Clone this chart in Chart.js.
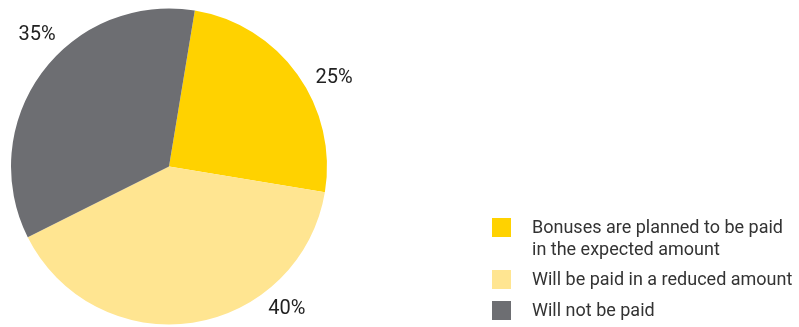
<!DOCTYPE html>
<html>
<head>
<meta charset="utf-8">
<script src="https://cdn.jsdelivr.net/npm/chart.js@4/dist/chart.umd.min.js"></script>
<style>
    html, body { margin: 0; padding: 0; background: #ffffff; }
    #wrap { position: relative; width: 799px; height: 327px; }
    #legend { position: absolute; left: 492px; top: 218px; font-family: Roboto, sans-serif; font-size: 18px; color: #333333; }
    .item { position: relative; padding-left: 40px; line-height: 21.5px; margin-bottom: 9px; }
    .item .box { position: absolute; left: 0; top: 0; width: 19px; height: 19px; }
    .item .txt { position: relative; top: -2px; }
</style>
</head>
<body>
<div id="wrap">
    <canvas id="pieChart" width="799" height="327"></canvas>
    <div id="legend"></div>
</div>
<script>
// Survey answers and shares (%)
let categories = ['Bonuses are planned to be paid in the expected amount', 'Will be paid in a reduced amount', 'Will not be paid'];
let legendLines = [['Bonuses are planned to be paid', 'in the expected amount'], ['Will be paid in a reduced amount'], ['Will not be paid']];
let shares = [25, 40, 35];
let colors = ['#ffd200', '#ffe591', '#6d6e72'];

// Where each percentage sits: angle from top (deg) and distance as a multiple of the radius
let labelAngles = [61.3, 140.0, 315.3];
let labelDist = [1.191, 1.161, 1.188];

const outsideLabels = {
    id: 'outsideLabels',
    afterDatasetsDraw(chart) {
        let ctx = chart.ctx;
        let arc = chart.getDatasetMeta(0).data[0];
        ctx.save();
        ctx.font = '20px Roboto, sans-serif';
        ctx.fillStyle = '#222222';
        ctx.textAlign = 'center';
        ctx.textBaseline = 'alphabetic';
        shares.forEach((v, i) => {
            let a = labelAngles[i] * Math.PI / 180;
            let r = arc.outerRadius * labelDist[i];
            // baseline sits half a cap height below the anchor
            ctx.fillText(v + '%', arc.x + Math.sin(a) * r, arc.y - Math.cos(a) * r + 7);
        });
        ctx.restore();
    }
};

let pieCtx = document.getElementById('pieChart').getContext('2d');
let pieChart = new Chart(pieCtx, {
    type: 'pie',
    data: {
        labels: categories,
        datasets: [{
            data: shares,
            backgroundColor: colors,
            borderWidth: 0
        }]
    },
    options: {
        responsive: false,
        animation: false,
        rotation: 9.4,
        layout: { padding: { left: 11, right: 472, top: 8.5, bottom: 2.5 } },
        plugins: {
            legend: { display: false },
            tooltip: { enabled: false }
        }
    },
    plugins: [outsideLabels]
});

// Legend on the right
let legend = document.getElementById('legend');
legendLines.forEach((lines, i) => {
    let item = document.createElement('div');
    item.className = 'item';
    let box = document.createElement('span');
    box.className = 'box';
    box.style.background = colors[i];
    item.appendChild(box);
    let txt = document.createElement('div');
    txt.className = 'txt';
    lines.forEach((t, j) => {
        if (j > 0) txt.appendChild(document.createElement('br'));
        txt.appendChild(document.createTextNode(t));
    });
    item.appendChild(txt);
    legend.appendChild(item);
});
</script>
</body>
</html>
